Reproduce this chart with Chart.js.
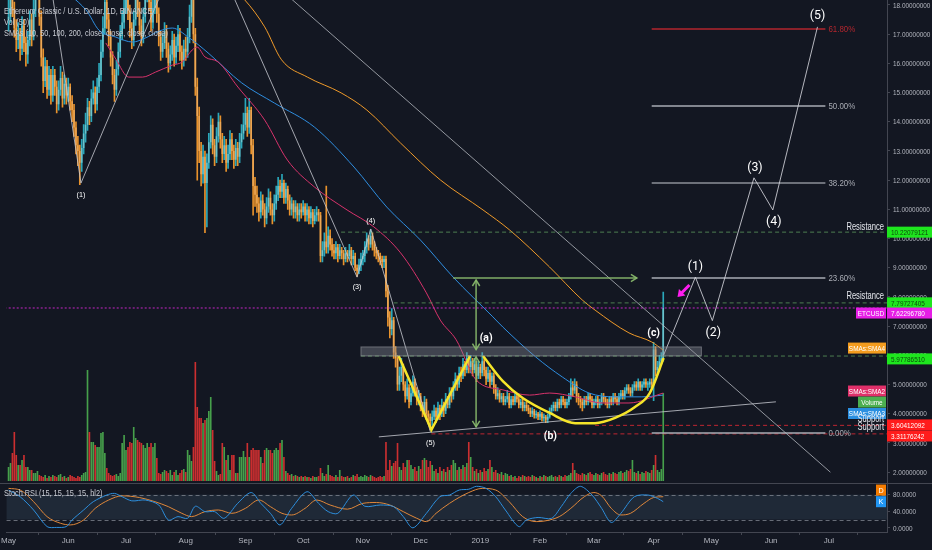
<!DOCTYPE html>
<html>
<head>
<meta charset="utf-8">
<script src="https://cdn.jsdelivr.net/npm/chart.js@4.4.1/dist/chart.umd.min.js"></script>
<style>
  html, body { margin: 0; padding: 0; background: #131722; }
  canvas { display: block; }
</style>
</head>
<body>
<canvas id="chart" width="932" height="550"></canvas>
<script>
// ETC/USD daily, day 0 = 1 May 2018
const firstOpen = 17.5;
const close = [
  17.6,18.3,17.9,17.2,16.8,17.0,16.5,17.3,16.7,16.3,
  16.8,17.5,16.9,17.8,18.6,19.0,17.6,16.2,15.4,15.9,
  15.1,15.6,14.9,15.6,15.2,14.6,15.1,15.5,14.8,15.3,
  14.9,15.2,14.7,14.4,13.8,13.2,13.0,12.6,13.1,13.6,
  13.9,14.5,14.2,14.8,15.0,14.6,15.2,15.6,16.4,17.2,
  18.1,17.5,16.9,16.2,15.6,15.1,15.8,16.4,17.0,17.4,
  17.9,18.4,17.8,17.2,16.8,17.5,18.2,17.9,17.3,16.9,
  17.6,18.3,18.9,18.1,17.4,17.9,18.5,17.7,16.9,16.4,
  16.7,17.1,16.5,16.0,16.3,16.8,16.2,16.6,17.0,16.4,
  16.1,16.5,16.4,16.9,17.6,18.2,17.0,15.2,14.2,13.0,
  12.2,12.8,11.9,12.6,13.3,13.9,13.2,12.8,13.5,14.0,
  13.4,12.9,13.2,12.6,12.9,13.4,13.0,12.7,13.1,12.8,
  13.3,13.6,13.9,14.3,13.8,14.4,13.2,11.8,11.5,11.2,
  10.9,11.3,11.0,10.7,11.1,11.4,11.0,10.8,11.2,11.5,
  11.8,11.6,11.9,11.4,11.7,11.3,11.0,11.2,10.9,11.1,
  10.8,11.0,10.9,11.1,10.8,11.0,10.7,10.9,10.6,10.8,
  10.9,10.8,9.4,9.6,9.9,9.7,10.1,9.8,9.6,9.5,
  9.7,9.4,9.6,9.5,9.3,9.5,9.4,9.6,9.3,9.4,
  9.0,8.9,9.1,9.3,9.4,9.7,10.0,9.8,10.1,9.8,
  9.6,9.5,9.4,9.3,9.2,9.3,8.2,7.3,6.9,7.2,
  6.1,5.9,5.0,5.3,5.6,5.0,4.6,4.9,4.4,4.7,
  5.1,4.8,4.5,4.6,4.3,4.1,4.4,4.0,3.9,3.75,
  3.9,4.1,3.9,4.2,4.0,4.3,4.1,4.5,4.3,4.7,
  4.6,4.9,5.2,5.0,5.4,5.3,5.7,5.5,5.9,5.6,
  5.8,5.5,5.7,5.3,5.6,5.4,5.8,5.5,5.2,5.4,
  5.1,5.3,4.9,4.6,4.7,4.5,4.6,4.4,4.5,4.6,
  4.3,4.5,4.4,4.6,4.5,4.3,4.4,4.2,4.3,4.2,
  4.1,4.0,4.1,3.95,4.0,3.9,4.0,3.85,3.9,3.8,
  3.9,4.1,4.2,4.3,4.2,4.4,4.3,4.5,4.4,4.3,
  4.4,4.6,4.9,4.8,5.0,4.6,4.5,4.4,4.3,4.5,
  4.4,4.6,4.5,4.3,4.4,4.5,4.3,4.4,4.6,4.5,
  4.4,4.3,4.5,4.4,4.6,4.5,4.4,4.6,4.7,4.6,
  4.8,4.9,4.8,4.7,4.9,5.0,4.9,5.1,4.9,5.0,
  5.1,5.0,5.0,5.1,5.0,6.2,5.5,5.6,5.8,5.9,
  7.62
];
const high = [
  18.4,18.9,18.6,18.1,17.5,17.4,17.2,17.6,17.5,16.9,
  17.1,17.8,17.7,18.2,19.1,19.6,19.2,17.8,16.5,16.2,
  16.1,15.9,15.8,15.9,15.8,15.4,15.4,15.9,15.7,15.6,
  15.5,15.5,15.3,14.9,14.6,14.0,13.5,13.2,13.4,13.9,
  14.3,14.8,14.7,15.1,15.4,15.2,15.5,16.0,16.8,17.6,
  19.0,18.4,17.7,17.1,16.4,15.8,16.1,16.7,17.3,17.8,
  18.3,18.9,18.6,18.0,17.4,17.8,18.6,18.5,18.1,17.5,
  17.9,18.7,19.4,19.1,18.3,18.2,18.9,18.7,17.9,17.1,
  17.0,17.4,17.3,16.7,16.6,17.1,17.0,16.9,17.3,17.2,
  16.6,16.8,16.9,17.2,18.0,18.8,18.4,17.2,15.5,14.5,
  13.3,13.2,13.0,12.9,13.6,14.2,14.1,13.4,13.8,14.3,
  14.2,13.6,13.5,13.4,13.2,13.7,13.6,13.2,13.4,13.3,
  13.6,13.9,14.3,14.8,14.5,14.8,14.5,13.4,12.1,11.8,
  11.4,11.6,11.5,11.2,11.4,11.7,11.6,11.2,11.5,11.8,
  12.1,12.0,12.2,12.0,11.9,11.8,11.5,11.4,11.3,11.3,
  11.2,11.2,11.2,11.3,11.2,11.2,11.1,11.1,11.0,11.0,
  11.1,11.0,10.9,9.9,10.2,11.8,10.4,10.3,10.0,9.8,
  9.9,9.8,9.8,9.7,9.6,9.7,9.6,9.8,9.7,9.6,
  9.5,9.1,9.3,9.5,9.6,9.9,10.2,10.1,10.3,10.2,
  9.9,9.7,9.6,9.5,9.4,9.4,9.4,8.4,7.5,7.6,
  7.3,6.3,6.0,5.6,5.9,5.7,5.1,5.2,5.0,4.9,
  5.3,5.2,4.9,4.8,4.7,4.4,4.6,4.5,4.1,4.0,
  4.1,4.3,4.2,4.4,4.3,4.5,4.4,4.7,4.6,4.9,
  4.9,5.1,5.4,5.3,5.6,5.6,5.9,5.8,6.1,6.0,
  6.0,5.9,5.9,5.8,5.8,5.7,6.1,5.9,5.6,5.6,
  5.5,5.4,5.4,5.0,4.9,4.8,4.7,4.7,4.6,4.8,
  4.7,4.6,4.6,4.7,4.7,4.6,4.5,4.5,4.4,4.4,
  4.3,4.2,4.2,4.15,4.1,4.05,4.1,4.05,4.0,3.95,
  4.0,4.2,4.3,4.4,4.4,4.5,4.5,4.6,4.6,4.5,
  4.5,4.7,5.2,5.1,5.2,5.1,4.7,4.6,4.5,4.6,
  4.6,4.7,4.7,4.6,4.5,4.6,4.6,4.5,4.7,4.7,
  4.6,4.5,4.6,4.6,4.7,4.7,4.6,4.7,4.8,4.8,
  4.9,5.0,5.0,4.9,5.0,5.1,5.1,5.2,5.1,5.1,
  5.2,5.2,5.1,5.2,5.2,6.45,6.3,5.8,6.0,6.1,
  8.17
];
const low = [
  17.1,17.4,17.6,16.9,16.4,16.5,16.1,16.3,16.4,15.9,
  16.0,16.6,16.6,16.8,17.6,18.3,17.3,15.9,15.0,15.2,
  14.8,14.9,14.6,14.7,14.9,14.3,14.4,14.9,14.5,14.6,
  14.6,14.7,14.4,14.0,13.5,12.9,12.5,11.85,12.3,12.9,
  13.3,13.7,13.9,14.0,14.6,14.3,14.4,15.0,15.4,16.2,
  17.0,17.2,16.6,15.9,15.3,14.7,14.9,15.6,16.2,16.8,
  17.2,17.7,17.5,16.9,16.5,16.6,17.3,17.6,17.0,16.6,
  16.7,17.4,18.1,17.8,17.1,17.2,17.7,17.4,16.6,16.1,
  16.2,16.5,16.2,15.7,15.8,16.1,15.9,16.0,16.4,16.1,
  15.8,15.9,16.1,16.2,16.7,17.4,16.7,14.9,12.0,12.6,
  11.8,11.9,10.2,10.4,12.4,13.1,12.9,12.5,12.6,13.3,
  13.1,12.6,12.7,12.3,12.4,12.7,12.7,12.4,12.5,12.5,
  12.6,13.1,13.4,13.7,13.5,13.6,12.9,10.8,11.1,10.9,
  10.6,10.7,10.8,10.4,10.5,10.9,10.8,10.5,10.6,11.0,
  11.3,11.4,11.4,11.2,11.2,11.0,10.8,10.8,10.7,10.7,
  10.6,10.6,10.7,10.8,10.6,10.6,10.5,10.5,10.4,10.5,
  10.6,10.6,9.2,9.2,9.4,9.5,9.5,9.6,9.4,9.3,
  9.3,9.2,9.3,9.3,9.1,9.2,9.2,9.3,9.1,9.1,
  8.9,8.7,8.8,8.9,9.1,9.2,9.5,9.6,9.7,9.6,
  9.4,9.3,9.2,9.1,9.0,9.0,8.0,7.0,6.6,6.7,
  5.9,5.6,4.8,4.8,5.1,4.8,4.4,4.5,4.2,4.3,
  4.6,4.6,4.3,4.3,4.1,3.9,4.0,3.8,3.7,3.45,
  3.6,3.8,3.7,3.8,3.8,3.9,3.9,4.0,4.2,4.2,
  4.4,4.5,4.8,4.8,4.9,5.1,5.2,5.3,5.4,5.4,
  5.4,5.3,5.4,5.1,5.2,5.2,5.3,5.3,5.0,5.1,
  4.9,5.0,4.7,4.5,4.5,4.4,4.4,4.3,4.3,4.4,
  4.2,4.2,4.3,4.3,4.4,4.2,4.2,4.1,4.1,4.1,
  4.0,3.9,3.9,3.85,3.85,3.8,3.8,3.75,3.75,3.7,
  3.7,3.85,4.0,4.1,4.1,4.1,4.2,4.2,4.3,4.2,
  4.2,4.3,4.5,4.6,4.7,4.4,4.3,4.2,4.1,4.2,
  4.3,4.3,4.4,4.2,4.2,4.3,4.2,4.2,4.3,4.4,
  4.3,4.2,4.2,4.3,4.3,4.4,4.3,4.3,4.5,4.5,
  4.5,4.7,4.7,4.6,4.6,4.8,4.8,4.8,4.8,4.8,
  4.9,4.9,4.8,4.9,4.9,4.45,5.3,5.4,5.5,5.7,
  5.8
];
const volume = [
  14,18,28,49,26,16,16,21,26,14,
  14,11,11,8,8,10,6,5,4,6,
  3,5,4,6,5,4,6,7,4,5,
  3,4,6,5,4,3,5,4,6,8,
  9,111,49,39,39,36,34,34,48,49,
  28,13,8,6,5,6,7,5,8,38,
  46,31,34,39,38,54,43,41,39,38,
  36,33,38,34,38,34,38,23,8,7,
  9,11,10,8,11,6,9,11,6,8,
  11,12,9,31,26,20,34,119,74,63,
  63,58,61,63,70,84,51,20,10,6,
  7,38,34,21,26,11,26,26,8,8,
  24,24,30,24,38,24,31,33,31,31,
  31,24,18,31,33,31,31,28,31,33,
  31,38,41,24,10,8,6,7,5,6,
  5,4,5,4,5,4,4,3,5,4,
  4,5,13,8,5,7,16,6,5,4,
  6,4,11,5,4,4,5,3,4,6,
  5,7,4,5,4,6,5,4,6,5,
  4,3,4,5,4,5,39,11,21,15,
  18,20,38,14,11,18,14,21,21,16,
  12,14,10,15,12,21,23,21,14,20,
  16,10,12,8,14,10,12,9,14,11,
  16,21,18,11,14,12,16,14,18,39,
  24,14,10,12,8,11,9,13,10,12,
  21,14,9,11,8,7,9,6,8,7,
  5,6,4,5,3,5,4,6,5,4,
  5,4,6,5,4,3,5,4,6,5,
  4,5,6,4,5,4,6,5,4,6,
  5,6,8,18,11,8,7,6,8,7,
  6,8,9,7,6,8,7,6,8,9,
  7,6,8,7,9,8,7,9,10,8,
  9,11,10,12,21,9,8,10,7,9,
  8,10,9,8,11,16,26,11,9,12,
  88
];

// moving averages (day, value)
const sma50Days = [50.5,55.7,62.4,69.6,76.3,85,90.2,95.4,97.9,102,108.8,119.1,133,144.8,158.8,175.8,189.7,203.6,217,224.2,232.5,242.8,256.7,270.6,281,294.3,308.2,322.2,340];
const sma50Vals = [16.7,16.15,15.53,15.53,15.70,15.94,16.05,16.46,16.56,16.22,16.05,15.19,14.06,12.69,11.77,10.98,10.40,9.51,8.14,7.21,6.53,5.16,4.82,4.64,4.71,4.58,4.37,4.37,4.71];
const sma100Days = [10,40.2,46.9,55.7,64.4,71.1,78,85,93.3,103.6,121.1,138.1,158.8,179.4,196.4,213.9,230.9,251.5,256.7,273.7,287.6,301.5,315,328.9,340];
const sma100Vals = [19.2,17.83,17.14,16.90,16.73,16.87,17.10,17.21,16.90,16.36,15.33,14.64,13.82,12.45,11.08,9.95,8.68,7.32,6.97,5.95,5.26,4.71,4.58,4.58,4.64];
const sma200Days = [110,122.7,133,141.8,155.2,172.7,186.1,203.6,224.2,246.4,260.3,280.9,297.9,304.6,322.2,334,340];
const sma200Vals = [18.9,18.17,17.25,16.12,15.53,14.99,14.40,13.27,12.01,10.98,10.29,9.03,7.90,7.55,6.77,6.46,6.18];

// stoch RSI
const kDays = [0,6,13,20,25,30,33,39,44,51,55,59,64,71,78,83,88,93,97,102,107,112,119,126,131,136,141,147,155,161,166,171,179,185,193,200,205,210,217,224,229,234,239,243,248,253,258,265,269,275,282,287,292,297,303,308,313,318,325,332,337,340];
const kVals = [91,75,43,3,1,3,19,43,63,79,83,75,65,67,55,19,27,23,52,39,39,23,59,85,59,35,7,47,87,59,39,35,79,52,55,51,27,0,35,75,79,91,93,100,95,75,43,3,19,25,23,51,83,100,79,47,13,35,75,79,71,63];
const dDays = [0,6,13,20,27,32,39,45,52,59,68,76,83,90,95,102,109,116,123,130,136,142,147,154,160,167,176,184,191,198,205,212,217,222,229,239,246,253,260,267,274,279,286,292,299,304,308,313,318,323,330,335,340];
const dVals = [95,91,63,27,11,7,19,47,67,77,73,63,51,35,27,39,43,35,47,67,51,35,31,47,67,55,45,59,61,55,39,23,15,35,59,85,95,91,63,27,15,17,27,47,75,85,77,47,31,35,59,73,75];

// axes
const monthTicks = [0,31,61,92,123,153,184,214,245,276,304,335,365,396,426];
const monthLabels = ['May','Jun','Jul','Aug','Sep','Oct','Nov','Dec','2019','Feb','Mar','Apr','May','Jun','Jul'];
const priceTicks = [2,3,4,5,6,7,8,9,10,11,12,13,14,15,16,17,18];
const rsiTicks = [0,40,80];

// fibonacci levels
const fibNames = ['61.80%','50.00%','38.20%','23.60%','0.00%'];
const fibVals = [17.18,14.54,11.90,8.65,3.34];

// drawn levels
const levelVals = [10.22079121, 7.79727405, 7.6229678, 5.9778651, 3.60412092, 3.31176242];

// ---- drawing annotations (day, price) ----
const levelLines = [
  { value: levelVals[0], from: 172.7, color: 'rgba(96,160,96,0.75)', dash: [4, 3] },
  { value: levelVals[1], from: 200,   color: 'rgba(96,160,96,0.75)', dash: [4, 3] },
  { value: levelVals[2], from: -2,    color: 'rgba(214,40,214,0.9)', dash: [2, 2] },
  { value: levelVals[3], from: 183,   color: 'rgba(96,160,96,0.75)', dash: [4, 3] },
  { value: levelVals[4], from: 304.6, color: 'rgba(210,40,50,0.9)',  dash: [4, 3] },
  { value: levelVals[5], from: 219.6, color: 'rgba(210,40,50,0.9)',  dash: [4, 3] }
];
const oldWaveA = [[20.8,19.2],[37.6,11.9],[84.4,19.2]];
const oldWaveB = [[110.7,19.2],[181,8.68],[188.1,10.33],[219.1,3.38]];
const projWave = [[340.2,6.01],[356.7,8.68],[365.5,7.19],[387.1,12.08],[396.9,10.98],[420.1,17.25]];
const bigTrend = [[129.7,19.2],[426.8,2.0]];
const baseTrend = [[192.3,3.21],[398.5,4.41]];
const yellowW = [[202.6,5.98],[219.6,3.45],[239.7,5.98]];
const yellowCup = [[246.4,5.98],[256.7,5.12],[267,4.54],[281,4.03],[294.3,3.68],[304.6,3.68],[315,3.86],[325.3,4.23],[333,4.71],[340.2,5.91]];
const fibFrom = 334, fibTo = 424.2;
const zone = { from: 183, to: 359.8, top: 6.29, bottom: 5.98 };
const greenArrows = [
  { a: [230.9, 8.65], b: [326.3, 8.65], both: false },
  { a: [242.8, 6.20], b: [242.8, 8.58], both: true },
  { a: [242.8, 3.55], b: [242.8, 5.95], both: true }
];
const pinkArrow = { a: [353.6, 8.41], b: [347.4, 8.0] };
const notes = [
  { d: 37.6,  p: 11.5,  t: '(1)', size: 8 },
  { d: 181,   p: 8.34,  t: '(3)', size: 8 },
  { d: 188.1, p: 10.62, t: '(4)', size: 8 },
  { d: 219.1, p: 3.0,   t: '(5)', size: 8 },
  { d: 248,   p: 6.6,   t: '(a)', size: 11, bold: true },
  { d: 281.4, p: 3.24,  t: '(b)', size: 11, bold: true },
  { d: 335,   p: 6.77,  t: '(c)', size: 11, bold: true },
  { d: 356.7, p: 9.03,  t: '(1)', size: 13 },
  { d: 366,   p: 6.77,  t: '(2)', size: 13 },
  { d: 387.6, p: 12.42, t: '(3)', size: 13 },
  { d: 397.4, p: 10.57, t: '(4)', size: 13 },
  { d: 420.1, p: 17.62, t: '(5)', size: 13 }
];
const sideTexts = [
  { p: 10.38, t: 'Resistance' },
  { p: 8.02,  t: 'Resistance' },
  { p: 3.83,  t: 'Support' },
  { p: 3.53,  t: 'Support' }
];
const axisTags = [
  { at: 10.22, text: levelVals[0].toFixed(8), bg: '#1ee61e', fg: '#0d470d' },
  { at: 7.80,  text: levelVals[1].toFixed(8), bg: '#1ee61e', fg: '#0d470d' },
  { at: 7.45,  text: levelVals[2].toFixed(8), bg: '#e61ee6', fg: '#ffffff' },
  { at: 5.88,  text: levelVals[3].toFixed(8), bg: '#1ee61e', fg: '#0d470d' },
  { at: 3.62,  text: levelVals[4].toFixed(8), bg: '#ff1c1c', fg: '#ffffff' },
  { at: 3.24,  text: levelVals[5].toFixed(8), bg: '#ff1c1c', fg: '#ffffff' }
];
const sideTags = [
  { at: 7.45, text: 'ETCUSD',    bg: '#e61ee6', w: 30 },
  { at: 6.25, text: 'SMAs:SMA4', bg: '#f39c1e', w: 38 },
  { at: 4.78, text: 'SMAs:SMA2', bg: '#e0306a', w: 38 },
  { at: 4.40, text: 'Volume',    bg: '#4caf50', w: 28 },
  { at: 4.01, text: 'SMAs:SMA3', bg: '#2a8fe0', w: 38 }
];
const rsiTags = [
  { at: 91, text: 'D', bg: '#f57c00' },
  { at: 63, text: 'K', bg: '#2196f3' }
];

const FONT = '"Liberation Sans", Arial, sans-serif';
const AXIS = '#434651';
const TEXT = '#b2b5be';

const dayIdx = close.map((c, i) => i);
const open = close.map((c, i) => (i === 0 ? firstOpen : close[i - 1]));
const isUp = i => close[i] >= open[i];

const pts = arr => arr.map(([x, y]) => ({ x, y }));
const seriesPts = (xs, ys) => xs.map((x, i) => ({ x, y: ys[i] }));
function lineDs(data, color, width, extra) {
  return Object.assign({
    type: 'line', data, borderColor: color, borderWidth: width,
    pointRadius: 0, fill: false, tension: 0, yAxisID: 'y', order: 2
  }, extra || {});
}

const datasets = [
  {
    type: 'bar', yAxisID: 'yVol', order: 20, grouped: false,
    data: dayIdx.map(i => ({ x: i, y: volume[i] })),
    barPercentage: 1, categoryPercentage: 0.85,
    backgroundColor: c => (isUp(c.dataIndex) ? 'rgba(76,175,80,0.9)' : 'rgba(225,50,50,0.9)')
  },
  {
    type: 'bar', yAxisID: 'y', order: 12, grouped: false,
    data: dayIdx.map(i => ({ x: i, y: [low[i], high[i]] })),
    barThickness: 1,
    backgroundColor: c => (isUp(c.dataIndex) ? '#2aa8bb' : '#e8922c')
  },
  {
    type: 'bar', yAxisID: 'y', order: 11, grouped: false,
    data: dayIdx.map(i => ({ x: i, y: [open[i], close[i]] })),
    barPercentage: 0.8, categoryPercentage: 1, minBarLength: 1,
    backgroundColor: c => (isUp(c.dataIndex) ? '#6cc3cc' : '#eea856')
  },
  lineDs(seriesPts(sma50Days, sma50Vals), '#d8336c', 1, { order: 6, cubicInterpolationMode: 'monotone' }),
  lineDs(seriesPts(sma100Days, sma100Vals), '#2f8ee0', 1, { order: 6, cubicInterpolationMode: 'monotone' }),
  lineDs(seriesPts(sma200Days, sma200Vals), '#ef9a2a', 1, { order: 6, cubicInterpolationMode: 'monotone' }),
  lineDs(seriesPts(kDays, kVals), '#2d8fdd', 1, { yAxisID: 'yRsi', order: 3, tension: 0.3 }),
  lineDs(seriesPts(dDays, dVals), '#e0883a', 1, { yAxisID: 'yRsi', order: 3, cubicInterpolationMode: 'monotone' })
];
levelLines.forEach(l => datasets.push(lineDs(pts([[l.from, l.value], [470, l.value]]), l.color, 1, { borderDash: l.dash, order: 5 })));
datasets.push(lineDs(pts(bigTrend), 'rgba(190,193,200,0.75)', 1));
datasets.push(lineDs(pts(baseTrend), 'rgba(200,203,210,0.8)', 1));
datasets.push(lineDs(pts(oldWaveA), 'rgba(200,203,210,0.8)', 1));
datasets.push(lineDs(pts(oldWaveB), 'rgba(200,203,210,0.8)', 1));
datasets.push(lineDs(pts(projWave), 'rgba(210,212,218,0.85)', 1));
fibVals.forEach((v, i) => datasets.push(lineDs(pts([[fibFrom, v], [fibTo, v]]),
  i === 0 ? '#b3262e' : (i === 2 ? '#8d9099' : '#a9acb4'), 1.5)));
datasets.push(lineDs(pts(yellowW), '#f5e52a', 2.5, { order: 1 }));
datasets.push(lineDs(pts(yellowCup), '#f5e52a', 2.5, { order: 1, cubicInterpolationMode: 'monotone' }));

// narrow text, like the squeezed screenshot
function sText(ctx, text, x, y, sx, align) {
  ctx.save();
  ctx.translate(x, y);
  ctx.scale(sx, 1);
  ctx.textAlign = align || 'left';
  ctx.fillText(text, 0, 0);
  ctx.restore();
}

function head(ctx, x1, y1, x2, y2, size) {
  const a = Math.atan2(y2 - y1, x2 - x1);
  ctx.beginPath();
  ctx.moveTo(x2 - size * Math.cos(a - 0.55), y2 - size * Math.sin(a - 0.55));
  ctx.lineTo(x2, y2);
  ctx.lineTo(x2 - size * Math.cos(a + 0.55), y2 - size * Math.sin(a + 0.55));
  ctx.stroke();
}

const overlay = {
  id: 'overlay',
  beforeDatasetsDraw(chart) {
    const { ctx, chartArea, scales } = chart;
    const r = scales.yRsi;
    const t = r.getPixelForValue(80), b = r.getPixelForValue(20);
    ctx.save();
    ctx.fillStyle = 'rgba(55,75,95,0.35)';
    ctx.fillRect(chartArea.left, t, chartArea.right - chartArea.left, b - t);
    ctx.strokeStyle = 'rgba(140,145,155,0.7)';
    ctx.lineWidth = 1;
    ctx.setLineDash([4, 3]);
    [t, b].forEach(py => {
      ctx.beginPath();
      ctx.moveTo(chartArea.left, Math.round(py) + 0.5);
      ctx.lineTo(chartArea.right, Math.round(py) + 0.5);
      ctx.stroke();
    });
    ctx.restore();
  },
  afterDatasetsDraw(chart) {
    const { ctx, scales: { x, y } } = chart;
    const P = (d, p) => [x.getPixelForValue(d), y.getPixelForValue(p)];
    ctx.save();
    // grey zone
    const [zx1, zy1] = P(zone.from, zone.top);
    const [zx2, zy2] = P(zone.to, zone.bottom);
    ctx.fillStyle = 'rgba(140,143,152,0.38)';
    ctx.fillRect(zx1, zy1, zx2 - zx1, zy2 - zy1);
    ctx.strokeStyle = 'rgba(170,173,180,0.5)';
    ctx.lineWidth = 1;
    ctx.strokeRect(zx1, zy1, zx2 - zx1, zy2 - zy1);
    // green arrows
    ctx.strokeStyle = 'rgba(140,190,110,0.9)';
    ctx.lineWidth = 1.5;
    greenArrows.forEach(g => {
      const [x1, y1] = P(g.a[0], g.a[1]);
      const [x2, y2] = P(g.b[0], g.b[1]);
      ctx.beginPath(); ctx.moveTo(x1, y1); ctx.lineTo(x2, y2); ctx.stroke();
      head(ctx, x1, y1, x2, y2, 7);
      if (g.both) head(ctx, x2, y2, x1, y1, 7);
    });
    // pink arrow
    {
      const [x1, y1] = P(pinkArrow.a[0], pinkArrow.a[1]);
      const [x2, y2] = P(pinkArrow.b[0], pinkArrow.b[1]);
      ctx.strokeStyle = '#ff1df0';
      ctx.fillStyle = '#ff1df0';
      ctx.lineWidth = 3;
      ctx.beginPath(); ctx.moveTo(x1, y1); ctx.lineTo(x2 + 3, y2 - 3); ctx.stroke();
      const a = Math.atan2(y2 - y1, x2 - x1);
      ctx.beginPath();
      ctx.moveTo(x2, y2);
      ctx.lineTo(x2 - 8 * Math.cos(a - 0.6), y2 - 8 * Math.sin(a - 0.6));
      ctx.lineTo(x2 - 8 * Math.cos(a + 0.6), y2 - 8 * Math.sin(a + 0.6));
      ctx.closePath(); ctx.fill();
    }
    // labels
    ctx.textBaseline = 'middle';
    notes.forEach(n => {
      const [nx, ny] = P(n.d, n.p);
      ctx.font = (n.bold ? 'bold ' : '') + n.size + 'px ' + (n.size > 10 ? 'Roboto, "Liberation Sans", sans-serif' : FONT);
      ctx.fillStyle = '#ffffff';
      sText(ctx, n.t, nx, ny, n.size > 10 ? 0.95 : 0.9, 'center');
    });
    // fib labels
    ctx.font = '9px ' + FONT;
    fibVals.forEach((v, i) => {
      const [fx, fy] = P(fibTo, v);
      ctx.fillStyle = i === 0 ? '#b3262e' : '#a9acb4';
      sText(ctx, fibNames[i], fx + 3, fy + 0.5, 0.88);
    });
    ctx.restore();
  },
  afterDraw(chart) {
    const { ctx, chartArea, scales: { y, yRsi } } = chart;
    ctx.save();
    // pane separator
    ctx.strokeStyle = AXIS;
    ctx.lineWidth = 1;
    const sy = Math.round(yRsi.top) + 0.5;
    ctx.beginPath(); ctx.moveTo(0, sy); ctx.lineTo(chart.width, sy); ctx.stroke();
    ctx.textBaseline = 'middle';
    // axis tick labels
    ctx.font = '8px ' + FONT;
    ctx.fillStyle = TEXT;
    priceTicks.forEach(v => sText(ctx, v.toFixed(8), chartArea.right + 6, y.getPixelForValue(v) + 0.5, 0.8));
    rsiTicks.forEach(v => sText(ctx, v.toFixed(4), chartArea.right + 6, yRsi.getPixelForValue(v) + 0.5, 0.8));
    // left-of-axis tags
    sideTags.forEach(s => {
      const cy = y.getPixelForValue(s.at);
      ctx.fillStyle = s.bg;
      ctx.fillRect(chartArea.right - 1 - s.w, cy - 5.5, s.w, 11);
      ctx.fillStyle = '#ffffff';
      sText(ctx, s.text, chartArea.right - 1 - s.w / 2, cy + 0.5, 0.8, 'center');
    });
    rsiTags.forEach(s => {
      const cy = yRsi.getPixelForValue(s.at);
      ctx.fillStyle = s.bg;
      ctx.fillRect(chartArea.right - 11, cy - 5.5, 10, 11);
      ctx.fillStyle = '#ffffff';
      sText(ctx, s.text, chartArea.right - 6, cy + 0.5, 0.9, 'center');
    });
    // axis price tags
    axisTags.forEach(s => {
      const cy = y.getPixelForValue(s.at);
      ctx.fillStyle = s.bg;
      ctx.fillRect(chartArea.right, cy - 5.5, chart.width - chartArea.right, 11);
      ctx.fillStyle = s.fg;
      sText(ctx, s.text, chartArea.right + 4, cy + 0.5, 0.8);
    });
    // side texts
    ctx.font = '10px ' + FONT;
    ctx.fillStyle = '#e6e8ee';
    sideTexts.forEach(s => sText(ctx, s.t, chartArea.right - 3, y.getPixelForValue(s.p), 0.76, 'right'));
    // header
    ctx.font = '9.5px ' + FONT;
    ctx.fillStyle = '#c9ccd4';
    sText(ctx, 'Ethereum Classic / U.S. Dollar, 1D, BINANCE', 4, 11, 0.77);
    sText(ctx, 'Vol (50)', 4, 22, 0.77);
    sText(ctx, 'SMAs (10, 50, 100, 200, close, close, close, close)', 4, 33, 0.77);
    sText(ctx, 'Stoch RSI (15, 15, 15, 15, hl2)', 4, yRsi.top + 10, 0.77);
    ctx.restore();
  }
};

Chart.defaults.font.family = FONT;
Chart.defaults.font.size = 8;
Chart.defaults.color = TEXT;

new Chart(document.getElementById('chart'), {
  type: 'line',
  data: { datasets },
  options: {
    responsive: false,
    animation: false,
    events: [],
    layout: { padding: 0 },
    plugins: { legend: { display: false }, tooltip: { enabled: false } },
    scales: {
      x: {
        type: 'linear', min: -1.03, max: 456.2, offset: false,
        afterBuildTicks: s => { s.ticks = monthTicks.map(v => ({ value: v })); },
        afterFit: s => { s.height = 18; },
        ticks: { autoSkip: false, maxRotation: 0, padding: 1, callback: (v, i) => monthLabels[i] },
        grid: { drawOnChartArea: false, tickLength: 3, color: AXIS },
        border: { color: AXIS }
      },
      y: {
        type: 'linear', position: 'right', stack: 'pane', stackWeight: 483,
        min: 1.63, max: 18.17,
        afterBuildTicks: s => { s.ticks = priceTicks.map(v => ({ value: v })); },
        afterFit: s => { s.width = 45; },
        ticks: { display: false },
        grid: { drawOnChartArea: false, tickLength: 3, color: AXIS },
        border: { color: AXIS }
      },
      yRsi: {
        type: 'linear', position: 'right', stack: 'pane', stackWeight: 49,
        min: -10, max: 108,
        afterBuildTicks: s => { s.ticks = rsiTicks.map(v => ({ value: v })); },
        afterFit: s => { s.width = 45; },
        ticks: { display: false },
        grid: { drawOnChartArea: false, tickLength: 3, color: AXIS },
        border: { color: AXIS }
      },
      yVol: { type: 'linear', display: false, min: -51, max: 481 }
    }
  },
  plugins: [overlay]
});
</script>
</body>
</html>
